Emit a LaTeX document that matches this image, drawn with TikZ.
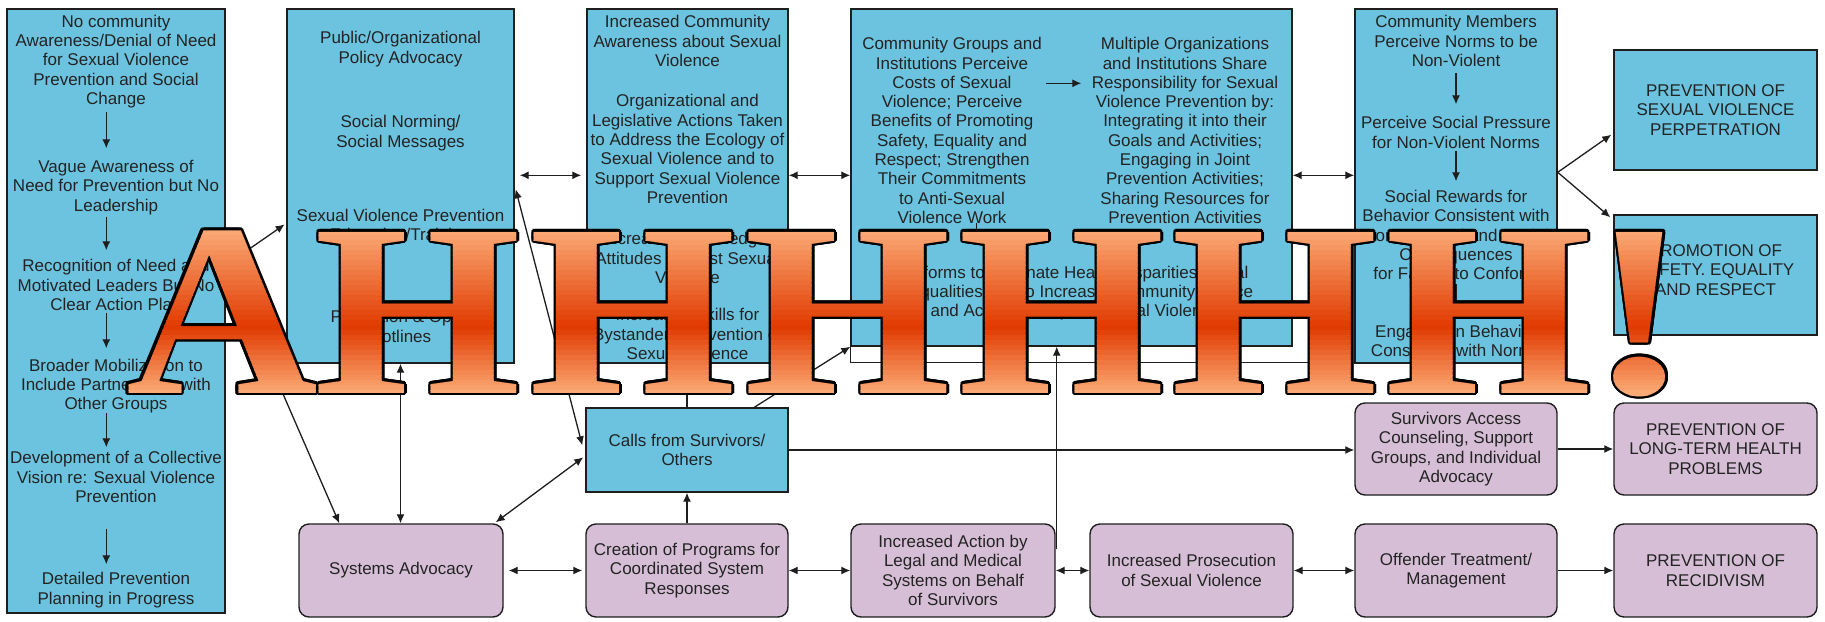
\documentclass[tikz,border=0pt]{standalone}
\usepackage{fontspec}
\usepackage{graphicx}
\setmainfont{Liberation Sans}
\newfontfamily\shoutfont{Liberation Serif}
\usetikzlibrary{arrows.meta,calc}
\pgfdeclarelayer{background}
\pgfsetlayers{background,main}

\definecolor{boxblue}{RGB}{108,195,223}
\definecolor{boxlilac}{RGB}{214,191,214}
\definecolor{inkgray}{RGB}{35,35,35}
\definecolor{rulegray}{RGB}{30,30,30}
\definecolor{shoutpale}{RGB}{252,174,122}
\definecolor{shoutdeep}{RGB}{224,58,0}

\tikzset{
  every node/.style={font=\fontsize{17}{19.3}\selectfont, text=inkgray},
  bluebox/.style={draw=rulegray, line width=1.4, fill=boxblue, inner sep=0, align=center},
  lilacbox/.style={draw=rulegray, line width=1.4, fill=boxlilac, rounded corners=10, inner sep=0, align=center},
  txt/.style={align=center, inner sep=0},
  oneway/.style={draw=rulegray, line width=1.3, -{Latex[length=9,width=8]}},
  twoway/.style={draw=rulegray, line width=1.3, {Latex[length=9,width=8]}-{Latex[length=9,width=8]}},
  plainline/.style={draw=rulegray, line width=1.3},
  glyph/.style={font=\shoutfont\bfseries\fontsize{246}{246}\selectfont, anchor=base, inner sep=0, outer sep=0},
}

% the big exclamation, one glyph per node
\newcommand\shoutglyphs[1]{%
  \node[glyph,#1] (gA) at (222,393) {\scalebox{1.08}[1]{A}};
  \foreach \gx [count=\gi] in {418,633,848,1062,1275,1489}
    \node[glyph,#1] (gH\gi) at (\gx,393) {\scalebox{1.08}[1]{H}};
  \node[glyph,#1] (gX) at (1640,393) {\scalebox{1.3}[1]{!}};
}

\begin{document}
\begin{tikzpicture}[x=1pt,y=-1pt]
\useasboundingbox (0,0) rectangle (1825,621);
\fill[white] (0,0) rectangle (1825,621);

% ---------- upper row of blue boxes ----------
\node[bluebox, minimum width=218, minimum height=604] (L) at (116,311) {};
\node[bluebox, minimum width=227, minimum height=354] (B2) at (400.5,186) {};
\node[bluebox, minimum width=201, minimum height=354] (B3) at (687.5,186) {};
\node[bluebox, minimum width=441, minimum height=337] (B4) at (1071.5,177.5) {};
\node[bluebox, minimum width=202, minimum height=354] (B5) at (1456,186) {};
\node[bluebox, minimum width=203, minimum height=120] (R1) at (1715.5,110) {PREVENTION OF\\SEXUAL VIOLENCE\\PERPETRATION};
\node[bluebox, minimum width=203, minimum height=120] (R2) at (1715.5,275) {};
\node[txt] (R2t) at (1715.5,270) {PROMOTION OF\\SAFETY. EQUALITY\\AND RESPECT};
\node[bluebox, minimum width=202, minimum height=84] (CALLS) at (687,450) {Calls from Survivors/\\Others};

% ---------- lilac service boxes ----------
\node[lilacbox, minimum width=202, minimum height=92] (SURV) at (1456,449) {Survivors Access\\Counseling, Support\\Groups, and Individual\\Advocacy};
\node[lilacbox, minimum width=203, minimum height=92] (LTH) at (1715.5,449) {PREVENTION OF\\LONG-TERM HEALTH\\PROBLEMS};
\node[lilacbox, minimum width=204, minimum height=93] (SA) at (401,570.5) {Systems Advocacy};
\node[lilacbox, minimum width=202, minimum height=93] (CR) at (687,570.5) {Creation of Programs for\\Coordinated System\\Responses};
\node[lilacbox, minimum width=204, minimum height=93] (ACT) at (953,570.5) {Increased Action by\\Legal and Medical\\Systems on Behalf\\of Survivors};
\node[lilacbox, minimum width=203, minimum height=93] (PROS) at (1191.5,570.5) {Increased Prosecution\\of Sexual Violence};
\node[lilacbox, minimum width=202, minimum height=93] (OFF) at (1456,570.5) {Offender Treatment/\\Management};
\node[lilacbox, minimum width=203, minimum height=93] (REC) at (1715.5,570.5) {PREVENTION OF\\RECIDIVISM};

% ---------- texts inside the tall boxes ----------
\node[txt] (L1) at (116,61.5) {No community\\Awareness/Denial of Need\\for Sexual Violence\\Prevention and Social\\Change};
\node[txt] (L2) at (116,187.5) {Vague Awareness of\\Need for Prevention but No\\Leadership};
\node[txt] (L3) at (116,285) {Recognition of Need and\\Motivated Leaders But No\\Clear Action Plan};
\node[txt] (L4) at (116,386) {Broader Mobilization to\\Include Partnerships with\\Other Groups};
\node[txt] (L5) at (116,477) {Development of a Collective\\Vision re: Sexual Violence\\Prevention};
\node[txt] (L6) at (116,590) {Detailed Prevention\\Planning in Progress};

\node[txt] (P1) at (400.5,49) {Public/Organizational\\Policy Advocacy};
\node[txt] (P2) at (400.5,133) {Social Norming/\\Social Messages};
\node[txt] (P3) at (400.5,226.5) {Sexual Violence Prevention\\Education/Training};
\node[txt] (P4) at (400.5,326.5) {Promotion \& Open\\Hotlines};

\node[txt] (O1) at (687.5,41) {Increased Community\\Awareness about Sexual\\Violence};
\node[txt] (O2) at (687.5,149) {Organizational and\\Legislative Actions Taken\\to Address the Ecology of\\Sexual Violence and to\\Support Sexual Violence\\Prevention};
\node[txt] (O3) at (687.5,258) {Increased Knowledge/\\Attitudes Against Sexual\\Violence};
\node[txt] (O4) at (687.5,334) {Increased Skills for\\Bystander Intervention of\\Sexual Violence};

\node[txt] (C1) at (952,130.5) {Community Groups and\\Institutions Perceive\\Costs of Sexual\\Violence; Perceive\\Benefits of Promoting\\Safety, Equality and\\Respect; Strengthen\\Their Commitments\\to Anti-Sexual\\Violence Work};
\node[txt] (C2) at (1185,130.5) {Multiple Organizations\\and Institutions Share\\Responsibility for Sexual\\Violence Prevention by:\\Integrating it into their\\Goals and Activities;\\Engaging in Joint\\Prevention Activities;\\Sharing Resources for\\Prevention Activities};
\node[txt] (C3) at (1075,293) {Reforms to Eliminate Health Disparities/Social\\Inequalities and to Increase Community Justice\\and Accountability for Sexual Violence};

\node[txt] (N1) at (1456,41) {Community Members\\Perceive Norms to be\\Non-Violent};
\node[txt] (N2) at (1456,132.5) {Perceive Social Pressure\\for Non-Violent Norms};
\node[txt] (N3) at (1456,235) {Social Rewards for\\Behavior Consistent with\\Norms, Legal and Social\\Consequences\\for Failure to Conform};
\node[txt] (N4) at (1456,341) {Engaging in Behavior\\Consistent with Norms};

% ---------- arrows inside boxes ----------
\foreach \ya/\yb in {104/140, 209/242, 305/340, 405/439, 521/556}
  \draw[oneway] ($(L.north west)+(100,\ya)$) -- ($(L.north west)+(100,\yb)$);
\draw[oneway] ($(B4.north west)+(196,75)$) -- ($(B4.north west)+(231,75)$);
\draw[oneway] ($(B4.north west)+(126,215)$) -- ($(B4.north west)+(126,236)$);
\foreach \ya/\yb in {65/96, 143/173, 276/310}
  \draw[oneway] ($(B5.north)+(0,\ya)$) -- ($(B5.north)+(0,\yb)$);

% frame line under the partnership box
\coordinate (b4foot) at ($(B4.south west)+(0,16)$);
\draw[plainline] (B4.south west) -- (b4foot) -- (b4foot -| B5.west);

% ---------- connectors ----------
\draw[oneway, shorten >=2] ($(L.north east)+(0,257)$) -- ($(B2.north west)+(0,215)$);
\draw[oneway] ($(L.north east)+(0,254)$) -- ($(SA.north west)+(41,0)$);
\draw[twoway] (B2.south) -- (B2.south |- SA.north);
\draw[twoway] ($(B2.north east)+(1,181)$) -- ($(CALLS.north west)+(-3,38)$);
\draw[twoway] ($(SA.north east)+(-8,-1)$) -- ($(CALLS.north west)+(-2,50)$);
\draw[oneway] (CALLS.north) -- (CALLS.north |- B3.south);
\draw[oneway] ($(CALLS.north west)+(169,0)$) -- (B4.south west);
\draw[oneway] (CALLS.east) -- (CALLS.east -| SURV.west);
\draw[oneway] (CR.north) -- (CR.north |- CALLS.south);
\draw[twoway, shorten <=5, shorten >=3] (SA.east) -- (CR.west);
\draw[twoway] (CR.east) -- (ACT.west);
\draw[twoway] (ACT.east) -- (PROS.west);
\draw[twoway] (PROS.east) -- (OFF.west);
\draw[oneway] (OFF.east) -- (REC.west);
\draw[oneway] (SURV.east) -- (LTH.west);
\coordinate (actport) at ($(ACT.north east)+(1,26)$);
\draw[oneway] (actport) -- (actport |- B4.south);
\begin{pgfonlayer}{background}
  \draw[oneway] (actport) -- ($(SURV.north west)+(0,55)$);
\end{pgfonlayer}
\draw[twoway, shorten <=5, shorten >=5] ($(B2.north east)+(0,167)$) -- ($(B3.north west)+(0,167)$);
\draw[twoway] ($(B3.north east)+(0,167)$) -- ($(B4.north west)+(0,167)$);
\draw[twoway] ($(B4.north east)+(0,167)$) -- ($(B5.north west)+(0,167)$);
\draw[oneway] ($(B5.north east)+(0,164)$) -- ($(R1.south west)+(-2,-36)$);
\draw[oneway] ($(B5.north east)+(0,164)$) -- ($(R2.north west)+(-3,3)$);

% ---------- outlined, shaded lettering on top ----------
\foreach \a in {0,30,...,330}{
  \begin{scope}[shift={(\a:2.6)}]
    \shoutglyphs{text=black}
  \end{scope}
}
\foreach \i in {0,...,35}{
  \pgfmathsetmacro\ya{220+5*\i}
  \pgfmathsetmacro\pct{(\ya+2.5)<327.5 ? max(0,min(100,\ya+2.5-227)) : max(0,100-(\ya+2.5-327)*100/68)}
  \colorlet{stripc}{shoutdeep!\pct!shoutpale}
  \begin{scope}
    \clip (100,\ya) rectangle (1700,\ya+5.6);
    \shoutglyphs{text=stripc}
  \end{scope}
}
\end{tikzpicture}
\end{document}
